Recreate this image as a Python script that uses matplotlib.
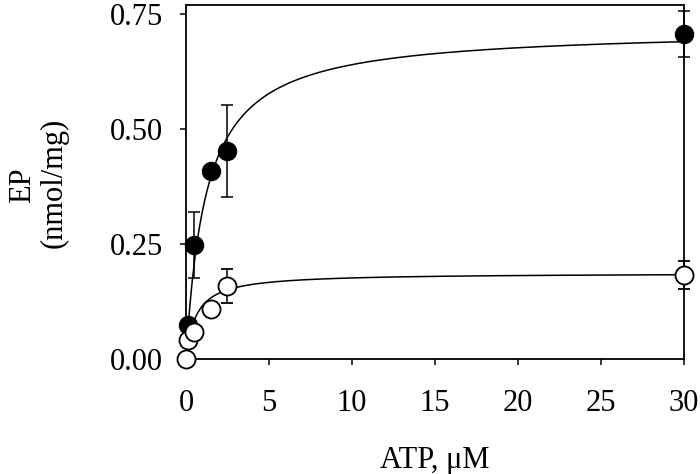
import matplotlib
matplotlib.use("Agg")
import matplotlib.pyplot as plt
import numpy as np

plt.rcParams['font.family'] = ['Liberation Serif', 'DejaVu Serif']

# filled circles
atp_filled = [0.1, 0.5, 1.5, 2.5, 30]
ep_filled = [0.074, 0.248, 0.409, 0.452, 0.707]
err_filled = [0.0, 0.072, 0.0, 0.100, 0.050]

# open circles
atp_open = [0.0, 0.1, 0.5, 1.5, 2.5, 30]
ep_open = [0.0, 0.041, 0.058, 0.109, 0.159, 0.182]
err_open = [0.0, 0.0, 0.0, 0.0, 0.037, 0.030]

# hyperbolic fit parameters (Vmax, K0.5)
fit_filled = (0.718, 1.22)
fit_open = (0.187, 0.61)

x_ticks = [0, 5, 10, 15, 20, 25, 30]
y_ticks = [0.0, 0.25, 0.5, 0.75]

fig = plt.figure(figsize=(7, 4.74), dpi=100)
ax = fig.add_axes([0.2657, 0.2426, 0.7114, 0.7468])

xs = np.linspace(0, 30, 400)
for vmax, k in (fit_filled, fit_open):
    ax.plot(xs, vmax * xs / (k + xs), color='black', lw=1.1, clip_on=False)

ax.errorbar(atp_filled, ep_filled, yerr=err_filled, fmt='o', ms=13,
            mfc='black', mec='black', ecolor='black', elinewidth=1.1,
            capsize=4.5, capthick=1.1, clip_on=False, zorder=3)
ax.errorbar(atp_open, ep_open, yerr=err_open, fmt='o', ms=13,
            mfc='white', mec='black', mew=1.3, ecolor='black', elinewidth=1.1,
            capsize=4.5, capthick=1.1, clip_on=False, zorder=3)

ax.set_xlim(0, 30)
ax.set_ylim(0, 0.7696)
ax.set_xticks(x_ticks)
ax.set_yticks(y_ticks)
ax.set_yticklabels(['%.2f' % v for v in y_ticks])
ax.tick_params(direction='out', length=4.5, width=1.1, labelsize=22)
ax.tick_params(axis='x', pad=17)
ax.tick_params(axis='y', pad=12)
for s in ax.spines.values():
    s.set_linewidth(1.3)

ax.set_xlabel('ATP, \u03bcM', fontsize=22, labelpad=20)
fig.text(0.032, 0.61, 'EP', rotation=90, fontsize=22, ha='center', va='center')
fig.text(0.077, 0.615, '(nmol/mg)', rotation=90, fontsize=22, ha='center', va='center')

fig.savefig('out.png', dpi=100)
